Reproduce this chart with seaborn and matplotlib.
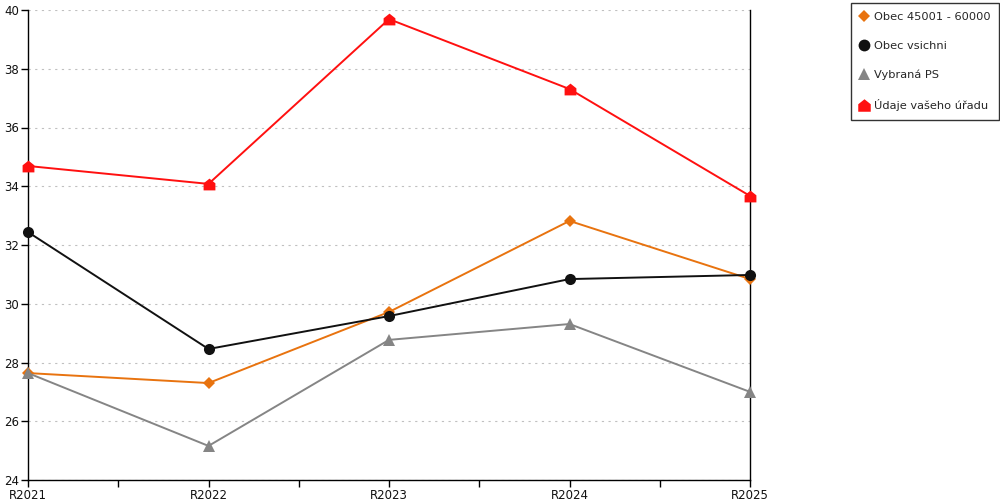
import pandas as pd
import numpy as np
import matplotlib
matplotlib.use('Agg')
import matplotlib.pyplot as plt
import seaborn as sns
from matplotlib.path import Path
from matplotlib.lines import Line2D
from matplotlib.ticker import MultipleLocator

years = ['R2021', 'R2022', 'R2023', 'R2024', 'R2025']
obec_45_60 = [27.64, 27.30, 29.72, 32.82, 30.84]
obec_vsichni = [32.44, 28.46, 29.58, 30.84, 30.98]
vybrana_ps = [27.64, 25.16, 28.77, 29.31, 27.00]
udaje_uradu = [34.69, 34.08, 39.69, 37.31, 33.67]

names = ['Obec 45001 - 60000', 'Obec vsichni', 'Vybraná PS', 'Údaje vašeho úřadu']
colors_list = ['#e8730f', '#111111', '#858585', '#ff1010']

# house-like marker for the red series
house = Path([(-1, -1), (1, -1), (1, 0.2), (0, 1), (-1, 0.2), (-1, -1)],
             [Path.MOVETO, Path.LINETO, Path.LINETO, Path.LINETO, Path.LINETO, Path.CLOSEPOLY])
markers = ['D', 'o', '^', house]
msizes = [6, 8, 8, 8.5]

df = pd.DataFrame({
    'rok': years * 4,
    'hodnota': obec_45_60 + obec_vsichni + vybrana_ps + udaje_uradu,
    'serie': sum([[n] * len(years) for n in names], []),
})

sns.set_style('white')
plt.rcParams['font.family'] = ['DejaVu Sans']

fig = plt.figure(figsize=(10, 5), dpi=100)
ax = fig.add_axes([0.028, 0.04, 0.722, 0.94])

for i, n in enumerate(names):
    sub = df[df['serie'] == n]
    sns.lineplot(data=sub, x='rok', y='hodnota', ax=ax, color=colors_list[i],
                 marker=markers[i], markersize=msizes[i], markeredgewidth=0,
                 linewidth=1.4, sort=False, clip_on=False, zorder=3)

ax.set_xlim(0, 4)
ax.set_ylim(24, 40)
ax.yaxis.set_major_locator(MultipleLocator(2))
ax.xaxis.set_minor_locator(MultipleLocator(0.5))
ax.set_xlabel('')
ax.set_ylabel('')

ax.grid(axis='y', linestyle=(0, (2, 4)), color='#c0c0c0', linewidth=0.8)
ax.grid(axis='x', visible=False)

for s in ['left', 'bottom', 'right']:
    ax.spines[s].set_visible(True)
    ax.spines[s].set_color('black')
    ax.spines[s].set_linewidth(1)
ax.spines['top'].set_visible(False)

ax.tick_params(axis='both', which='both', direction='out', length=5, width=1,
               color='black', labelsize=8.5, labelcolor='#111111', pad=1.5)
ax.tick_params(axis='y', which='both', right=False, left=True)
ax.tick_params(axis='x', which='both', bottom=True)

handles = [Line2D([], [], linestyle='none', marker=markers[i], color=colors_list[i],
                  markersize=msizes[i] + 0.5, markeredgewidth=0) for i in range(len(names))]
leg = fig.legend(handles, names, loc='upper left', bbox_to_anchor=(0.851, 0.994),
                 frameon=True, fancybox=False, edgecolor='black', fontsize=8.2,
                 handlelength=0.8, handletextpad=0.45, labelspacing=1.68,
                 borderpad=0.75, borderaxespad=0)
leg.get_frame().set_linewidth(1)

plt.savefig('out.png', dpi=100)
